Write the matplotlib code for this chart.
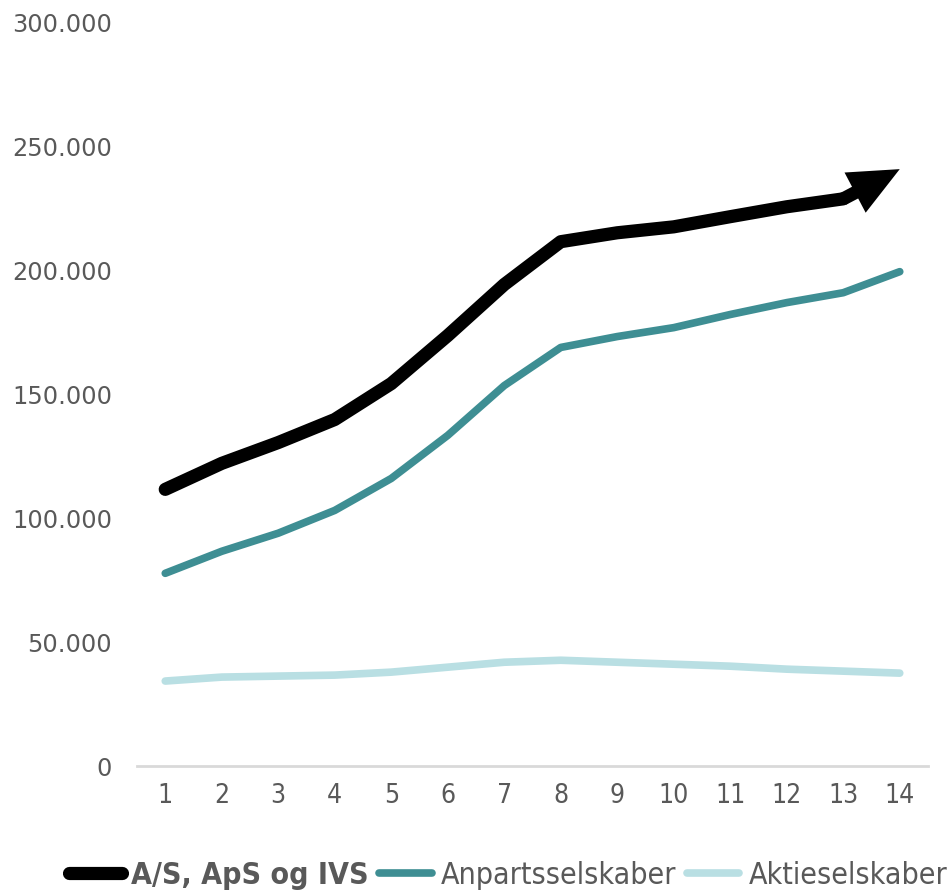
import numpy as np
import matplotlib.pyplot as plt
from matplotlib.lines import Line2D

# år 1..14
years = np.arange(1, 15)
total = [111700, 122200, 130600, 139900, 154400, 173800, 194400,
         211700, 215300, 217700, 221800, 225800, 229000, 241000]
aps = [77800, 86700, 94000, 103200, 116100, 133500, 153600,
       169000, 173400, 177000, 182300, 187100, 191100, 199600]
a_s = [34300, 35900, 36300, 36700, 37900, 39900, 41900,
       42700, 41900, 41100, 40300, 39100, 38300, 37500]
y_ticks = [0, 50000, 100000, 150000, 200000, 250000, 300000]
y_labels = ['0', '50.000', '100.000', '150.000', '200.000', '250.000', '300.000']

black = '#000000'
teal = '#3E8E93'
light = '#B9DFE3'
grey = '#595959'

fig = plt.figure(figsize=(9.51, 8.91), dpi=100)
ax = fig.add_axes([137 / 951, 125 / 891, 791 / 951, 743 / 891])

ax.plot(years, a_s, color=light, lw=5.5, solid_capstyle='round', solid_joinstyle='round', zorder=2)
ax.plot(years, aps, color=teal, lw=5.5, solid_capstyle='round', solid_joinstyle='round', zorder=3)
ax.plot(years[:-1], total[:-1], color=black, lw=9.5, solid_capstyle='round', zorder=4)
# sidste stykke som pil
ax.annotate('', xy=(years[-1], total[-1]), xytext=(years[-2], total[-2]),
            arrowprops=dict(arrowstyle='-|>,head_length=2.0,head_width=0.9',
                            color=black, lw=9.5, shrinkA=0, shrinkB=0,
                            joinstyle='miter', capstyle='butt'),
            zorder=5)

ax.set_xlim(0.5, 14.5)
ax.set_ylim(0, 300000)
ax.set_xticks(years)
ax.set_xticklabels([str(y) for y in years], fontstretch='condensed', fontsize=19, color=grey)
ax.set_yticks(y_ticks)
ax.set_yticklabels(y_labels, fontsize=17.3, color=grey)
ax.tick_params(axis='both', length=0)
ax.tick_params(axis='y', pad=18)
ax.tick_params(axis='x', pad=12)

for s in ['top', 'right', 'left']:
    ax.spines[s].set_visible(False)
ax.spines['bottom'].set_color('#D9D9D9')
ax.spines['bottom'].set_linewidth(2)

handles = [Line2D([], [], color=black, lw=9.5, solid_capstyle='round'),
           Line2D([], [], color=teal, lw=5.5, solid_capstyle='round'),
           Line2D([], [], color=light, lw=5.5, solid_capstyle='round')]
labels = ['A/S, ApS og IVS', 'Anpartsselskaber', 'Aktieselskaber']
leg = fig.legend(handles, labels, loc='center', bbox_to_anchor=(508 / 951, 16 / 891),
                 ncol=3, frameon=False, handlelength=1.75, handletextpad=0.3,
                 columnspacing=0.35, prop={'stretch': 'condensed', 'size': 21.7})
for i, t in enumerate(leg.get_texts()):
    t.set_color(grey)
    if i == 0:
        t.set_fontweight('bold')

fig.savefig('out.png', dpi=100)
